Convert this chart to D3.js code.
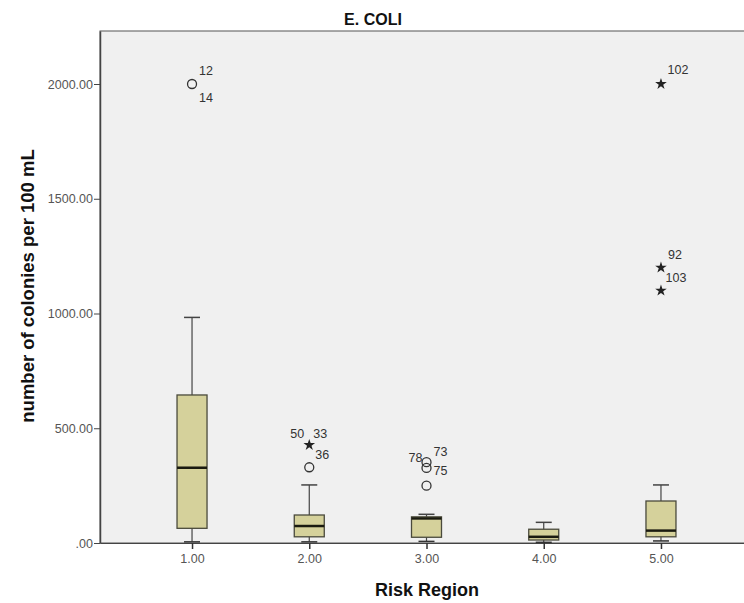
<!DOCTYPE html>
<html>
<head>
<meta charset="utf-8">
<script src="https://cdn.jsdelivr.net/npm/d3@7"></script>
<style>
  body { margin: 0; background: #fff; }
  text { font-family: "Liberation Sans", Arial, sans-serif; }
</style>
</head>
<body>
<div id="chart"></div>
<script>
// categories (risk regions) and box statistics
const regions = [1, 2, 3, 4, 5];
const whiskerLow = [5, 5, 7, 3, 9];
const q1 = [64, 27, 25, 13, 27];
const medians = [328, 74, 107, 27, 54];
const q3 = [645, 122, 114, 60, 183];
const whiskerHigh = [983, 253, 125, 90, 253];

// outliers: region, value, case label, marker type
const outRegion = [1, 2, 2, 3, 3, 3, 5, 5, 5];
const outValue = [2000, 427, 330, 352, 327, 250, 2000, 1200, 1100];
const outLabels = [['12', '14'], ['50', '33'], ['36'], ['78', '73'], ['75'], [], ['102'], ['92'], ['103']];
const outShape = ['circle', 'star', 'circle', 'circle', 'circle', 'circle', 'star', 'star', 'star'];

const yTicks = [0, 500, 1000, 1500, 2000];

// label centre offsets relative to the marker (layout only)
const labelOffset = {
  '12': [14, -14], '14': [14, 13], '50': [-12, -12], '33': [11, -12], '36': [13, -13],
  '78': [-11, -5], '73': [14, -11], '75': [14, 3], '102': [17, -15], '92': [14, -13], '103': [15, -13]
};

const width = 744, height = 603;
const plotLeft = 100, plotTop = 31, plotBottom = 543, plotRight = 753;

const svg = d3.select('#chart')
  .append('svg')
  .attr('width', width)
  .attr('height', height);

const x = d3.scaleLinear()
  .domain([0.215, 5.785])
  .range([plotLeft, plotRight]);

const y = d3.scaleLinear()
  .domain([0, 2231])
  .range([plotBottom, plotTop]);

// plot background
svg.append('rect')
  .attr('x', plotLeft).attr('y', plotTop)
  .attr('width', plotRight - plotLeft).attr('height', plotBottom - plotTop)
  .attr('fill', '#f0f0f0')
  .attr('stroke', '#555')
  .attr('stroke-width', 1);

// y axis
const yAxis = svg.append('g')
  .attr('transform', `translate(${plotLeft},0)`)
  .call(d3.axisLeft(y).tickValues(yTicks).tickSizeInner(6).tickSizeOuter(0).tickPadding(1)
    .tickFormat(d => d === 0 ? '.00' : d3.format('.2f')(d)));
yAxis.select('.domain').attr('stroke', '#444').attr('stroke-width', 1.5);
yAxis.selectAll('.tick line').attr('stroke', '#444');
yAxis.selectAll('text').attr('fill', '#555').style('font-size', '12.5px');

// x axis
const xAxis = svg.append('g')
  .attr('transform', `translate(0,${plotBottom})`)
  .call(d3.axisBottom(x).tickValues(regions).tickSizeInner(6).tickSizeOuter(0).tickPadding(5)
    .tickFormat(d3.format('.2f')));
xAxis.select('.domain').attr('stroke', '#444').attr('stroke-width', 1.2);
xAxis.selectAll('.tick line').attr('stroke', '#333').attr('stroke-width', 1.5);
xAxis.selectAll('text').attr('fill', '#555').style('font-size', '12.5px');

// boxes
const boxW = 30, capW = 16;
const boxes = svg.selectAll('.box')
  .data(regions)
  .enter()
  .append('g')
  .attr('class', 'box');

boxes.append('line')
  .attr('x1', (d) => x(d)).attr('x2', (d) => x(d))
  .attr('y1', (d, i) => y(whiskerLow[i])).attr('y2', (d, i) => y(whiskerHigh[i]))
  .attr('stroke', '#444').attr('stroke-width', 1.2);

boxes.append('line')
  .attr('x1', (d) => x(d) - capW / 2).attr('x2', (d) => x(d) + capW / 2)
  .attr('y1', (d, i) => y(whiskerHigh[i])).attr('y2', (d, i) => y(whiskerHigh[i]))
  .attr('stroke', '#444').attr('stroke-width', 1.5);

boxes.append('line')
  .attr('x1', (d) => x(d) - capW / 2).attr('x2', (d) => x(d) + capW / 2)
  .attr('y1', (d, i) => y(whiskerLow[i])).attr('y2', (d, i) => y(whiskerLow[i]))
  .attr('stroke', '#333').attr('stroke-width', 1.5);

boxes.append('rect')
  .attr('x', (d) => x(d) - boxW / 2)
  .attr('y', (d, i) => y(q3[i]))
  .attr('width', boxW)
  .attr('height', (d, i) => y(q1[i]) - y(q3[i]))
  .attr('fill', '#d5d19b')
  .attr('stroke', '#4a4a3c')
  .attr('stroke-width', 1.3);

boxes.append('line')
  .attr('x1', (d) => x(d) - boxW / 2).attr('x2', (d) => x(d) + boxW / 2)
  .attr('y1', (d, i) => y(medians[i])).attr('y2', (d, i) => y(medians[i]))
  .attr('stroke', '#1a1a10').attr('stroke-width', 2.5);

// outliers
const star = d3.symbol().type(d3.symbolStar).size(42);
outRegion.forEach((r, i) => {
  const cx = x(r), cy = y(outValue[i]);
  if (outShape[i] === 'circle') {
    svg.append('circle')
      .attr('cx', cx).attr('cy', cy).attr('r', 4.5)
      .attr('fill', 'none').attr('stroke', '#333').attr('stroke-width', 1.3);
  } else {
    svg.append('path')
      .attr('d', star)
      .attr('transform', `translate(${cx},${cy})`)
      .attr('fill', '#222');
  }
  outLabels[i].forEach(lab => {
    const off = labelOffset[lab];
    svg.append('text')
      .attr('x', cx + off[0])
      .attr('y', cy + off[1] + 4.5)
      .attr('text-anchor', 'middle')
      .attr('fill', '#333')
      .style('font-size', '12.5px')
      .text(lab);
  });
});

// titles
svg.append('text')
  .attr('x', 373).attr('y', 25)
  .attr('text-anchor', 'middle')
  .style('font-size', '16px').style('font-weight', 'bold')
  .attr('fill', '#111')
  .text('E. COLI');

svg.append('text')
  .attr('x', 427).attr('y', 596)
  .attr('text-anchor', 'middle')
  .style('font-size', '18px').style('font-weight', 'bold')
  .attr('fill', '#111')
  .text('Risk Region');

svg.append('text')
  .attr('transform', 'translate(34,286) rotate(-90)')
  .attr('text-anchor', 'middle')
  .style('font-size', '18.5px').style('font-weight', 'bold')
  .attr('fill', '#111')
  .text('number of colonies per 100 mL');
</script>
</body>
</html>
